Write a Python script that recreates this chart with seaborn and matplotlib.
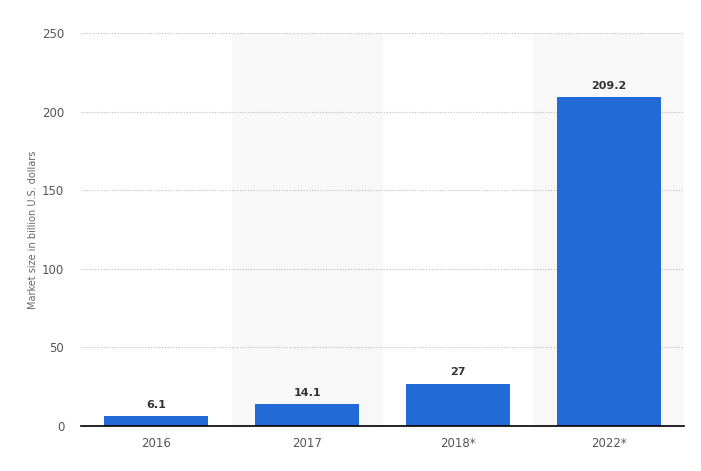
import pandas as pd
import seaborn as sns
import matplotlib
matplotlib.use('Agg')
import matplotlib.pyplot as plt

years = ['2016', '2017', '2018*', '2022*']
market_size = [6.1, 14.1, 27, 209.2]
value_labels = ['6.1', '14.1', '27', '209.2']

data = pd.DataFrame({'year': years, 'size': market_size})

sns.set_style('white')
plt.rcParams['font.family'] = ['DejaVu Sans']

fig = plt.figure(figsize=(7.01, 4.71), dpi=100)
ax = fig.add_axes([81 / 701, 1 - 426 / 471, (684 - 81) / 701, (426 - 33) / 471])

# shaded bands behind every second category
for i in range(len(years)):
    if i % 2 == 1:
        ax.axvspan(i - 0.5, i + 0.5, color='#f8f8f8', zorder=0, lw=0)

sns.barplot(data=data, x='year', y='size', color='#226AD6', width=0.69,
            saturation=1, linewidth=0, ax=ax, zorder=3)

for i, (v, lab) in enumerate(zip(market_size, value_labels)):
    ax.text(i, v + 4, lab, ha='center', va='bottom', fontsize=8,
            fontweight='bold', color='#333333', zorder=4)

ax.set_ylim(0, 250)
ax.set_xlim(-0.5, len(years) - 0.5)
ax.set_yticks([0, 50, 100, 150, 200, 250])
ax.yaxis.grid(True, linestyle=(0, (1, 1.5)), color='#bbbbbb', lw=0.8, zorder=1)
ax.xaxis.grid(False)
ax.set_axisbelow(True)

for s in ['top', 'right', 'left']:
    ax.spines[s].set_visible(False)
ax.spines['bottom'].set_color('#000000')
ax.spines['bottom'].set_linewidth(1.2)
ax.spines['bottom'].set_zorder(5)

ax.tick_params(axis='both', length=0, labelsize=8.5, labelcolor='#555555')
ax.tick_params(axis='y', pad=12)
ax.tick_params(axis='x', pad=8)
ax.set_xlabel('')
ax.set_ylabel('Market size in billion U.S. dollars', fontsize=7, color='#666666', labelpad=3)

fig.savefig('out.png', dpi=100)
